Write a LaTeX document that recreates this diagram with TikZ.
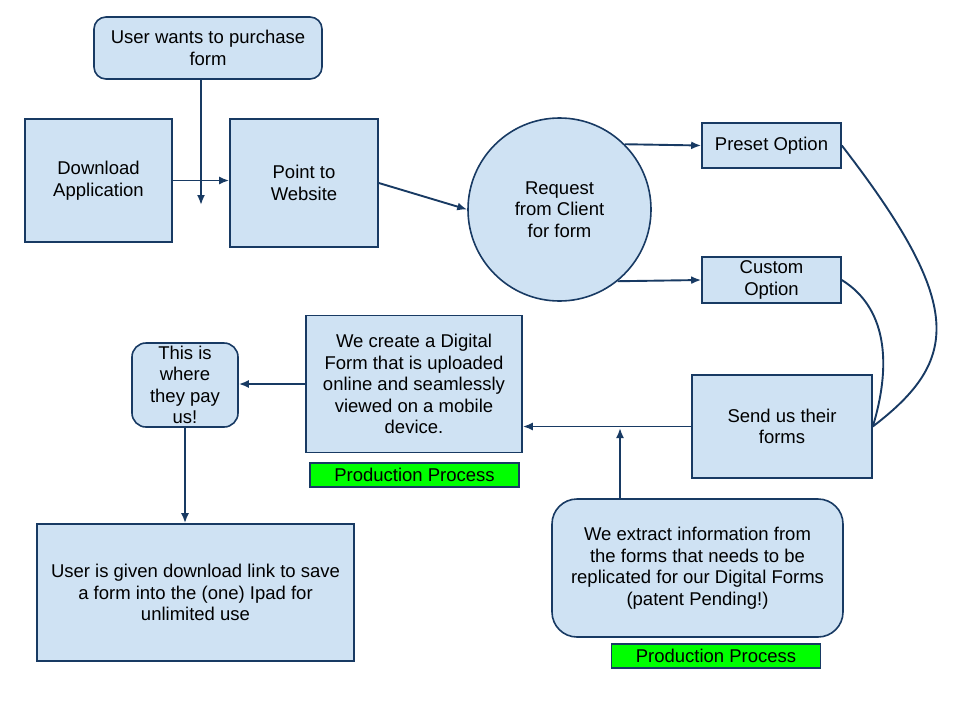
\documentclass[tikz,border=0pt]{standalone}
\usepackage{fontspec}
\setmainfont{Liberation Sans}
\usetikzlibrary{arrows.meta}
\tikzset{>={Latex[width=8pt,length=10pt]}}
\definecolor{boxfill}{RGB}{207,226,243}
\definecolor{boxline}{RGB}{24,58,99}
\definecolor{tagfill}{RGB}{0,255,0}

\begin{document}
\begin{tikzpicture}[x=1pt, y=-1pt,
  box/.style={draw=boxline, fill=boxfill, line width=1.6pt, align=center, inner sep=0pt},
  rbox/.style={box, rounded corners=12pt},
  tagbox/.style={draw=boxline, fill=tagfill, line width=1.3pt, inner sep=0pt, minimum width=209pt, minimum height=24pt},
  link/.style={draw=boxline, line width=1.9pt}]

  \fontsize{18.5}{21.5}\selectfont
  \useasboundingbox (0,0) rectangle (960,720);

  \node[rbox, minimum width=228pt, minimum height=62pt] (purchase) at (208,48) {User wants to purchase\\form};
  \node[box, minimum width=147pt, minimum height=123pt] (download) at (98.5,180.5) {Download\\Application};
  \node[box, minimum width=148pt, minimum height=128pt] (point) at (304,183) {Point to\\Website};
  \node[box, circle, minimum size=183pt] (request) at (559.5,209.5) {Request\\from Client\\for form};
  \node[box, minimum width=139pt, minimum height=45pt] (preset) at (771.5,145.5) {Preset Option};
  \node[box, minimum width=139pt, minimum height=46pt] (custom) at (771.5,280) {Custom\\Option};
  \node[box, minimum width=180pt, minimum height=103pt] (send) at (782,426.5) {Send us their\\forms};
  \node[box, minimum width=216pt, minimum height=137pt] (digital) at (414,384) {We create a Digital\\Form that is uploaded\\online and seamlessly\\viewed on a mobile\\device.};
  \node[rbox, rounded corners=14pt, minimum width=106pt, minimum height=84pt] (pay) at (185,385) {\fontsize{18.5}{20.5}\selectfont This is\\where\\they pay\\us!};
  \node[box, minimum width=317pt, minimum height=137pt] (given) at (195.5,592.5) {User is given download link to save\\a form into the (one) Ipad for\\unlimited use};
  \node[rbox, rounded corners=25pt, minimum width=291pt, minimum height=138pt] (extract) at (697.5,568) {We extract information from\\the forms that needs to be\\replicated for our Digital Forms\\(patent Pending!)};
  \node[tagbox] (tag1) at (414.5,475) {Production Process};
  \node[tagbox] (tag2) at (716,656) {Production Process};

  \coordinate (drop) at (201,205);
  \coordinate (join) at (620,428);

  \draw[link,->] (drop |- purchase.south) -- (drop); % purchase->down
  \draw[link,->] (download.east) -- (download.east -| point.west); % download->point
  \draw[link,->] (point.east) -- (request.west); % point->request
  \draw[link,->] (request.45) -- (preset.west); % request->preset
  \draw[link,->] (request.-51) -- (custom.west); % request->custom
  \draw[link] (preset.east) .. controls (965,305) and (960,360) .. (send.east); % preset-send
  \draw[link] (custom.east) .. controls (890,310) and (890,370) .. (send.east); % custom-send
  \draw[link,->] (send.west) -- (send.west -| digital.east); % send->digital
  \draw[link,->] (join |- extract.north) -- (join); % extract->up
  \draw[link,->] (digital.west) -- (digital.west -| pay.east); % digital->pay
  \draw[link,->] (pay.south) -- (pay.south |- given.north); % pay->given

\end{tikzpicture}
\end{document}
